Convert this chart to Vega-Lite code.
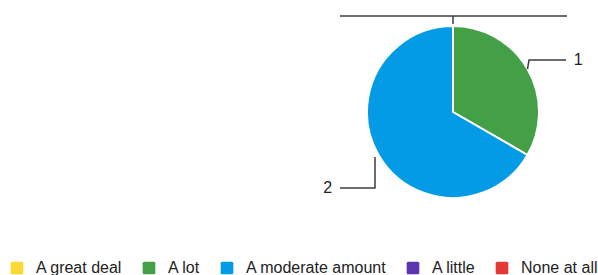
{
  "$schema": "https://vega.github.io/schema/vega-lite/v6.json",
  "width": 258,
  "height": 172,
  "autosize": {"type": "none"},
  "padding": {"left": 324, "top": 26, "right": 16, "bottom": 77},
  "config": {"view": {"stroke": null}, "font": "Liberation Sans"},
  "datasets": {
    "responses": [
      {"answer": "A great deal", "count": 0, "rank": 1},
      {"answer": "A lot", "count": 1, "rank": 2},
      {"answer": "A moderate amount", "count": 2, "rank": 3},
      {"answer": "A little", "count": 0, "rank": 4},
      {"answer": "None at all", "count": 0, "rank": 5}
    ],
    "leaders": [
      {"seg": "A lot", "step": 1, "x": 0.866, "y": 0.5},
      {"seg": "A lot", "step": 2, "x": 0.884, "y": 0.605},
      {"seg": "A lot", "step": 3, "x": 1.314, "y": 0.605},
      {"seg": "A moderate amount", "step": 1, "x": -0.907, "y": -0.523},
      {"seg": "A moderate amount", "step": 2, "x": -0.907, "y": -0.884},
      {"seg": "A moderate amount", "step": 3, "x": -1.314, "y": -0.884},
      {"seg": "zero", "step": 1, "x": -1.314, "y": 1.116},
      {"seg": "zero", "step": 2, "x": 1.326, "y": 1.116},
      {"seg": "zero tick", "step": 1, "x": 0, "y": 1.116},
      {"seg": "zero tick", "step": 2, "x": 0, "y": 1.023}
    ],
    "labels": [
      {"answer": "A lot", "count": 1, "x": 1.405, "y": 0.61, "side": "left"},
      {"answer": "A moderate amount", "count": 2, "x": -1.405, "y": -0.884, "side": "right"}
    ]
  },
  "layer": [
    {
      "data": {"name": "responses"},
      "mark": {"type": "arc", "outerRadius": 86, "stroke": "white", "strokeWidth": 2},
      "encoding": {
        "theta": {"field": "count", "type": "quantitative", "stack": true},
        "order": {"field": "rank", "type": "quantitative"},
        "color": {
          "field": "answer",
          "type": "nominal",
          "sort": ["A great deal", "A lot", "A moderate amount", "A little", "None at all"],
          "scale": {
            "domain": ["A great deal", "A lot", "A moderate amount", "A little", "None at all"],
            "range": ["#fdd835", "#43a047", "#039be5", "#5e35b1", "#e53935"]
          },
          "legend": {
            "title": null,
            "orient": "none",
            "legendX": -315,
            "legendY": 234,
            "direction": "horizontal",
            "columns": 5,
            "padding": 0,
            "labelFont": "Liberation Sans",
            "labelFontSize": 16,
            "labelColor": "#222222",
            "labelOffset": 11,
            "columnPadding": 18,
            "symbolSize": 160,
            "symbolType": "M-0.75,-1H0.75Q1,-1,1,-0.75V0.75Q1,1,0.75,1H-0.75Q-1,1,-1,0.75V-0.75Q-1,-1,-0.75,-1Z",
            "symbolStrokeWidth": 0,
            "symbolOpacity": 1
          }
        }
      }
    },
    {
      "data": {"name": "leaders"},
      "mark": {"type": "line", "color": "#3c3c3c", "strokeWidth": 1.5},
      "encoding": {
        "x": {"field": "x", "type": "quantitative", "scale": {"domain": [-1.5, 1.5], "nice": false, "zero": false}, "axis": null},
        "y": {"field": "y", "type": "quantitative", "scale": {"domain": [-1, 1], "nice": false, "zero": false}, "axis": null},
        "detail": {"field": "seg"},
        "order": {"field": "step", "type": "quantitative"}
      }
    },
    {
      "data": {"name": "labels"},
      "transform": [{"filter": "datum.side == 'left'"}],
      "mark": {"type": "text", "align": "left", "baseline": "middle", "fontSize": 16, "color": "#222222", "font": "Liberation Sans"},
      "encoding": {
        "x": {"field": "x", "type": "quantitative", "scale": {"domain": [-1.5, 1.5], "nice": false, "zero": false}, "axis": null},
        "y": {"field": "y", "type": "quantitative", "scale": {"domain": [-1, 1], "nice": false, "zero": false}, "axis": null},
        "text": {"field": "count", "type": "quantitative"}
      }
    },
    {
      "data": {"name": "labels"},
      "transform": [{"filter": "datum.side == 'right'"}],
      "mark": {"type": "text", "align": "right", "baseline": "middle", "fontSize": 16, "color": "#222222", "font": "Liberation Sans"},
      "encoding": {
        "x": {"field": "x", "type": "quantitative", "scale": {"domain": [-1.5, 1.5], "nice": false, "zero": false}, "axis": null},
        "y": {"field": "y", "type": "quantitative", "scale": {"domain": [-1, 1], "nice": false, "zero": false}, "axis": null},
        "text": {"field": "count", "type": "quantitative"}
      }
    }
  ]
}
